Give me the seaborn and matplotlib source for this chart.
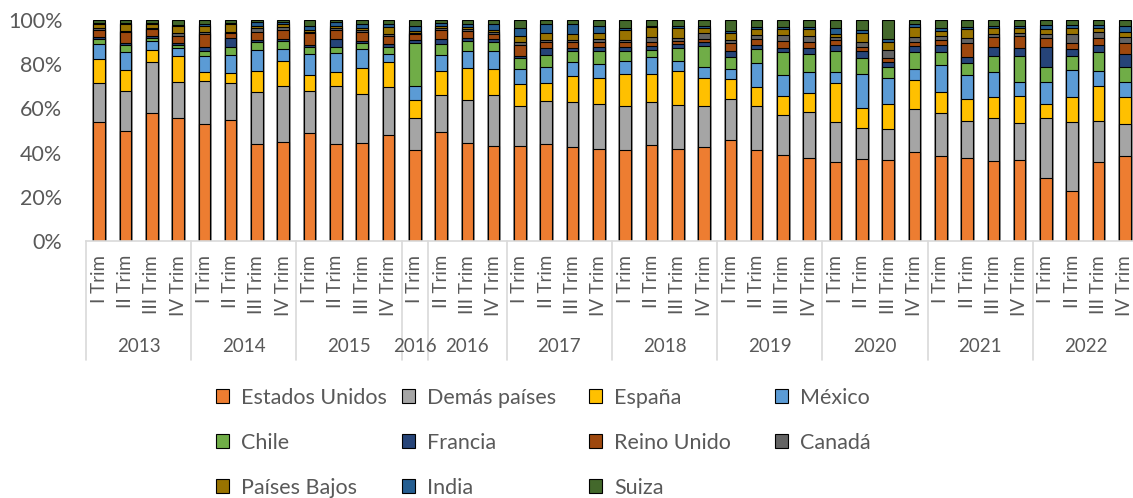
import numpy as np
import pandas as pd
import matplotlib
matplotlib.use("Agg")
import matplotlib.pyplot as plt
import seaborn as sns
from matplotlib.transforms import blended_transform_factory
from matplotlib.patches import Patch
from matplotlib.lines import Line2D

# ---------------- data ----------------
quarters = ["I Trim", "II Trim", "III Trim", "IV Trim"] * 10
year_groups = ["2013", "2014", "2015", "2016", "2016", "2017", "2018", "2019", "2020", "2021", "2022"]
group_sizes = [4, 4, 4, 1, 3, 4, 4, 4, 4, 4, 4]

estados_unidos = [54.0, 49.6, 58.1, 55.5, 53.1, 54.6, 44.0, 44.9, 48.7, 43.7, 44.2, 48.0, 41.3, 49.2, 44.5, 43.0,
                  43.1, 44.0, 42.4, 41.6, 41.0, 43.3, 41.5, 42.4, 45.6, 41.0, 38.8, 37.4, 35.9, 37.0, 36.8, 40.3,
                  38.5, 37.6, 36.2, 36.7, 28.4, 22.6, 35.7, 38.3]
demas_paises = [17.3, 18.1, 22.7, 16.3, 19.1, 16.7, 23.3, 25.4, 19.0, 26.3, 22.2, 21.7, 14.2, 16.7, 19.2, 23.2,
                18.0, 19.2, 20.5, 20.5, 19.9, 19.4, 20.0, 18.7, 18.7, 20.1, 18.1, 20.8, 17.8, 14.3, 14.0, 19.3,
                19.4, 16.5, 19.3, 16.5, 27.1, 31.4, 18.6, 14.5]
espana = [10.9, 9.5, 5.5, 11.8, 4.1, 4.9, 9.6, 11.1, 7.4, 6.3, 11.7, 11.1, 8.2, 10.9, 14.4, 11.6,
          9.8, 8.1, 11.6, 11.8, 14.5, 12.7, 15.4, 12.7, 9.2, 8.6, 8.6, 8.6, 17.8, 8.7, 11.0, 13.1,
          9.4, 10.3, 9.5, 12.6, 6.5, 11.3, 16.0, 12.4]
mexico = [7.1, 8.2, 4.2, 3.7, 7.3, 7.8, 9.7, 5.3, 9.4, 8.6, 8.6, 3.7, 6.4, 7.5, 7.7, 8.2,
          6.9, 7.3, 6.5, 6.2, 5.9, 7.7, 4.5, 4.8, 4.5, 10.7, 9.6, 9.5, 5.1, 15.7, 11.8, 5.0,
          12.2, 10.7, 11.3, 6.0, 10.1, 12.1, 6.6, 6.9]
chile = [2.0, 3.3, 1.5, 1.5, 2.2, 3.6, 3.3, 3.6, 3.1, 3.0, 3.0, 3.4, 19.6, 4.7, 4.8, 4.2,
         5.2, 5.6, 5.1, 5.7, 4.5, 3.5, 6.1, 9.6, 5.1, 6.3, 10.3, 8.5, 9.2, 7.0, 5.0, 7.8,
         6.0, 5.6, 7.3, 11.8, 6.8, 6.2, 8.5, 6.5]
francia = [1.0, 0.7, 0.6, 0.8, 1.8, 4.1, 0.9, 1.1, 1.1, 3.5, 0.8, 1.1, 1.1, 2.3, 1.1, 1.1,
           0.9, 3.3, 1.1, 1.8, 2.0, 1.8, 1.5, 1.7, 2.7, 2.0, 1.9, 2.5, 2.9, 3.3, 2.2, 2.6,
           3.2, 2.7, 4.2, 3.7, 8.7, 3.4, 3.3, 5.9]
reino_unido = [3.3, 5.0, 3.3, 3.2, 5.9, 2.3, 3.9, 3.9, 5.3, 4.2, 3.9, 3.6, 2.7, 4.2, 3.5, 2.5,
               4.8, 2.4, 2.7, 2.6, 2.1, 1.5, 1.5, 1.5, 3.9, 2.7, 3.2, 2.7, 2.1, 1.8, 2.2, 1.8,
               2.4, 6.0, 4.5, 5.6, 4.4, 2.6, 3.3, 5.1]
canada = [0.6, 0.6, 0.6, 1.2, 0.9, 0.7, 1.8, 1.5, 0.7, 0.6, 1.1, 0.9, 0.6, 0.7, 0.7, 0.9,
          1.2, 1.2, 1.2, 1.2, 1.2, 2.4, 1.5, 2.7, 1.4, 1.8, 2.7, 2.6, 1.5, 2.4, 3.3, 2.4,
          1.5, 2.6, 1.2, 1.4, 1.5, 3.9, 2.7, 2.7]
paises_bajos = [2.1, 3.2, 1.7, 3.4, 3.0, 3.3, 0.9, 1.2, 0.6, 1.2, 0.7, 3.3, 0.9, 1.1, 0.9, 0.9,
                3.0, 2.9, 2.6, 2.7, 4.5, 4.5, 4.2, 2.1, 2.9, 2.9, 2.7, 3.3, 1.5, 3.8, 3.6, 4.7,
                2.4, 3.9, 2.7, 2.2, 2.4, 3.0, 1.8, 2.4]
india = [0.4, 0.6, 0.3, 0.3, 0.6, 0.6, 1.5, 0.9, 2.0, 1.5, 1.8, 1.2, 2.4, 1.2, 1.2, 2.4,
         3.6, 4.0, 4.3, 3.0, 0.9, 0.6, 1.2, 1.2, 1.2, 0.7, 0.9, 0.9, 2.4, 1.5, 1.4, 1.0,
         1.2, 1.1, 1.2, 0.9, 1.8, 1.2, 1.2, 2.7]
suiza = [1.3, 1.2, 1.5, 2.3, 2.0, 1.4, 1.1, 1.1, 2.7, 1.1, 2.0, 2.0, 2.6, 1.5, 2.0, 2.0,
         3.5, 2.0, 2.0, 2.9, 3.5, 2.6, 2.6, 2.6, 4.8, 3.2, 3.2, 3.2, 3.8, 4.5, 8.7, 2.0,
         3.8, 3.0, 2.6, 2.6, 2.3, 2.3, 2.3, 2.6]

series_names = ["Estados Unidos", "Demás países", "España", "México", "Chile", "Francia",
                "Reino Unido", "Canadá", "Países Bajos", "India", "Suiza"]
series_values = [estados_unidos, demas_paises, espana, mexico, chile, francia,
                 reino_unido, canada, paises_bajos, india, suiza]
colors = ["#ED7D31", "#A5A5A5", "#FFC000", "#5B9BD5", "#70AD47", "#264478",
          "#9E480E", "#636363", "#997300", "#255E91", "#43682B"]

# ---------------- figure ----------------
sns.set_theme(style="white")
plt.rcParams['font.family'] = ['Lato', 'DejaVu Sans']
TXT = "#595959"
W, H = 1133, 498
fig = plt.figure(figsize=(W / 100, H / 100), dpi=100)
ax = fig.add_axes([86 / W, (H - 241) / H, 1052 / W, 221 / H])

years_per_bar = [y for y, n in zip(year_groups, group_sizes) for _ in range(n)]
ids = [f"{y}|{i}" for i, y in enumerate(years_per_bar)]
df = pd.DataFrame(dict(zip(series_names, series_values)))
df["id"] = ids
cum = df[series_names].cumsum(axis=1)
cum = cum.div(cum[series_names[-1]], axis=0) * 100.0

for name, col in reversed(list(zip(series_names, colors))):
    sns.barplot(x=df["id"], y=cum[name], order=ids, color=col, saturation=1,
                width=0.44, edgecolor="black", linewidth=0.8, errorbar=None, ax=ax)

ax.set_xlim(-0.5, len(ids) - 0.5)
ax.set_ylim(0, 100)
ax.set_yticks(range(0, 101, 20))
ax.set_yticklabels([f"{v}%" for v in range(0, 101, 20)])
ax.tick_params(axis="y", length=0, pad=17, labelsize=15.5, labelcolor=TXT)
ax.set_xticks([])
ax.set_xlabel("")
ax.set_ylabel("")
for s in ["left", "top", "right"]:
    ax.spines[s].set_visible(False)
ax.spines["bottom"].set_color("#D9D9D9")
ax.spines["bottom"].set_linewidth(1.2)

tr = blended_transform_factory(ax.transData, fig.transFigure)
for i, q in enumerate(quarters):
    fig.text(i, (H - 255) / H, q, rotation=90, ha="center", va="top",
             fontsize=13.5, color=TXT, transform=tr)

start = 0
bounds = [-0.5]
for y, n in zip(year_groups, group_sizes):
    center = start + (n - 1) / 2
    fig.text(center, (H - 347) / H, y, ha="center", va="center", fontsize=13.5,
             color=TXT, transform=tr)
    start += n
    bounds.append(start - 0.5)
for b in bounds:
    fig.add_artist(Line2D([b, b], [(H - 241) / H, (H - 360) / H], transform=tr,
                          color="#D9D9D9", lw=1.2, clip_on=False))

# ---------------- legend (row-major, 4 columns) ----------------
col_x = [216, 402, 589, 775]
for c in range(4):
    idx = list(range(c, len(series_names), 4))
    handles = [Patch(facecolor=colors[k], edgecolor="black", linewidth=0.8) for k in idx]
    labels = [series_names[k] for k in idx]
    fig.legend(handles, labels, loc="upper left", bbox_to_anchor=(col_x[c] / W, (H - 388) / H),
               frameon=False, fontsize=15.5, labelcolor=TXT, handlelength=0.62, handleheight=0.62,
               handletextpad=0.55, labelspacing=1.15, borderpad=0, borderaxespad=0)

fig.savefig("out.png", dpi=100)
